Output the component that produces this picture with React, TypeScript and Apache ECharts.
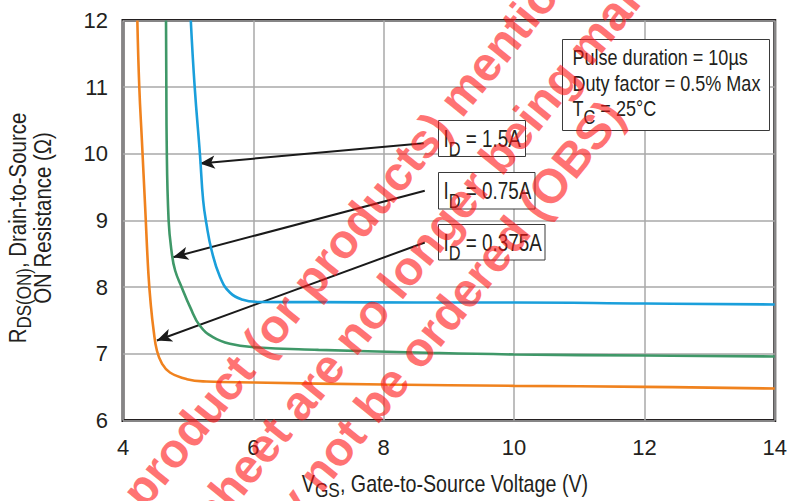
import React, { useEffect, useRef } from 'react';
import * as echarts from 'echarts';

const FONT = "'Liberation Sans', Arial, sans-serif";
const NARROW = 0.82;
const TEXT = '#231f20';

// Axis ranges / ticks
const xMin = 4, xMax = 14, xStep = 2;
const yMin = 6, yMax = 12, yStep = 1;

// Curves (VGS in V, RDS(ON) in ohm)
const curveColors = ['#1a9fdb', '#3f9868', '#f0821e'];

const vgs15 = [5.04, 5.10, 5.18, 5.23, 5.28, 5.36, 5.49, 5.64, 5.84, 6.05, 7.0, 8.5, 10, 12, 14];
const rds15 = [12, 11, 10, 9.3, 8.95, 8.55, 8.15, 7.92, 7.81, 7.78, 7.775, 7.77, 7.77, 7.755, 7.74];

const vgs075 = [4.66, 4.665, 4.67, 4.70, 4.75, 4.80, 4.90, 5.03, 5.18, 5.38, 5.64, 6.0, 7.0, 8.5, 10, 12, 14];
const rds075 = [12, 11, 10.2, 9.0, 8.5, 8.25, 8.0, 7.7, 7.42, 7.25, 7.15, 7.10, 7.06, 7.02, 6.99, 6.975, 6.96];

const vgs0375 = [4.22, 4.25, 4.29, 4.34, 4.39, 4.43, 4.47, 4.52, 4.60, 4.72, 4.98, 5.28, 6.0, 8.0, 10, 12, 14];
const rds0375 = [12, 11, 10.2, 9.2, 8.2, 7.7, 7.35, 7.05, 6.85, 6.72, 6.62, 6.585, 6.57, 6.54, 6.52, 6.505, 6.48];

// Annotation arrows (data coordinates)
const arrowFromVgs = [8.615, 8.63, 8.63];
const arrowFromRds = [10.157, 9.445, 8.67];
const arrowToVgs = [5.18, 4.77, 4.52];
const arrowToRds = [9.856, 8.45, 7.2];

// Labels
const idValues = ['1.5A', '0.75A', '0.375A'];
const conditionLines = ['Pulse duration = 10µs', 'Duty factor = 0.5% Max'];
const tcLabel = ['T', 'C', ' = 25°C'];
const xName = ['V', 'GS', ', Gate-to-Source Voltage (V)'];
const yName1 = ['R', 'DS(ON)', ', Drain-to-Source'];
const yName2 = 'ON Resistance (Ω)';
const watermark = [
  'The product (or products) mentioned in this',
  'datasheet are no longer being manufactured and',
  'may not be ordered (OBS)',
];

const zip = (xs: number[], ys: number[]) => xs.map((x, i) => [x, ys[i]]);

function subText(parts: string[], main: number, sub: number, pad: number) {
  return {
    text: `{m|${parts[0]}}{s|${parts[1]}}{m|${parts[2]}}`,
    rich: {
      m: { fontSize: main, fontFamily: FONT, fill: TEXT },
      s: { fontSize: sub, fontFamily: FONT, fill: TEXT, padding: [pad, 0, 0, 0] },
    },
  };
}

export default function App() {
  const ref = useRef<HTMLDivElement>(null);

  useEffect(() => {
    if (!ref.current) return;
    const chart = echarts.init(ref.current, undefined, { renderer: 'svg' });

    const boxes = [
      { x: 438.5, y: 120.5, w: 87, h: 36 },
      { x: 438.5, y: 172.5, w: 96.5, h: 36.5 },
      { x: 438.5, y: 224.5, w: 106.5, h: 35.5 },
    ];

    const graphic: any[] = [];
    boxes.forEach((b, i) => {
      graphic.push({
        type: 'rect', z: 20,
        shape: { x: b.x, y: b.y, width: b.w, height: b.h },
        style: { fill: '#fff', stroke: '#3a3a3a', lineWidth: 1 },
      });
      graphic.push({
        type: 'text', z: 21,
        x: b.x + 5, y: b.y + 18.5, scaleX: NARROW,
        style: { ...subText(['I', 'D', ` = ${idValues[i]}`], 23, 20, 20), align: 'left', verticalAlign: 'middle' },
      });
    });
    graphic.push({
      type: 'rect', z: 20,
      shape: { x: 562.5, y: 39.5, width: 207, height: 91 },
      style: { fill: '#fff', stroke: '#3a3a3a', lineWidth: 1 },
    });
    conditionLines.forEach((t, i) => {
      graphic.push({
        type: 'text', z: 21, x: 572.5, y: 57.5 + i * 25.5, scaleX: NARROW,
        style: { text: t, fontSize: 22, fontFamily: FONT, fill: TEXT, align: 'left', verticalAlign: 'middle' },
      });
    });
    graphic.push({
      type: 'text', z: 21, x: 572.5, y: 108.5, scaleX: NARROW,
      style: { ...subText(tcLabel, 22, 20, 17), align: 'left', verticalAlign: 'middle' },
    });
    graphic.push({
      type: 'text', z: 21, x: 445, y: 483.5, scaleX: NARROW,
      style: { ...subText(xName, 24, 21, 13), align: 'center', verticalAlign: 'middle' },
    });
    graphic.push({
      type: 'text', z: 21, x: 18, y: 228, rotation: Math.PI / 2, scaleX: 0.85,
      style: { ...subText(yName1, 24, 20, 12), align: 'center', verticalAlign: 'middle' },
    });
    graphic.push({
      type: 'text', z: 21, x: 43, y: 218, rotation: Math.PI / 2, scaleX: 0.85,
      style: { text: yName2, fontSize: 24, fontFamily: FONT, fill: TEXT, align: 'center', verticalAlign: 'middle' },
    });
    const wmPos = [[70, 577], [140, 598], [240, 569]];
    watermark.forEach((t, i) => {
      graphic.push({
        type: 'text', z: 100, x: wmPos[i][0], y: wmPos[i][1], rotation: (51 * Math.PI) / 180,
        style: {
          text: t, fontSize: 48, fontWeight: 'bold', fontFamily: FONT,
          fill: 'rgba(255,20,20,0.6)', align: 'left', verticalAlign: 'middle',
        },
      });
    });

    const curve = (name: string, data: number[][], color: string) => ({
      name, type: 'line', data, showSymbol: false, symbol: 'none',
      smooth: 0.45, z: 5,
      lineStyle: { color, width: 2.6 },
    });

    chart.setOption({
      animation: false,
      backgroundColor: '#fff',
      grid: {
        left: 123, right: 12, top: 20.5, bottom: 80.5,
        show: true, borderColor: '#231f20', borderWidth: 3, backgroundColor: 'transparent',
      },
      xAxis: {
        type: 'value', min: xMin, max: xMax, interval: xStep,
        axisLine: { show: false }, axisTick: { show: false },
        splitLine: { show: true, lineStyle: { color: '#a9a9a9', width: 1.5 } },
        axisLabel: { color: TEXT, fontSize: 22, fontFamily: FONT, margin: 16 },
      },
      yAxis: {
        type: 'value', min: yMin, max: yMax, interval: yStep,
        axisLine: { show: false }, axisTick: { show: false },
        splitLine: { show: true, lineStyle: { color: '#a9a9a9', width: 1.5 } },
        axisLabel: { color: TEXT, fontSize: 22, fontFamily: FONT, margin: 15 },
      },
      series: [
        curve('ID = 1.5A', zip(vgs15, rds15), curveColors[0]),
        curve('ID = 0.75A', zip(vgs075, rds075), curveColors[1]),
        curve('ID = 0.375A', zip(vgs0375, rds0375), curveColors[2]),
        {
          name: 'arrows', type: 'line', data: [], z: 6,
          markLine: {
            silent: true, animation: false,
            symbol: ['none', 'arrow'], symbolSize: [10, 15],
            lineStyle: { color: '#1a1a1a', width: 2, type: 'solid' },
            label: { show: false },
            data: arrowFromVgs.map((x, i) => [
              { coord: [x, arrowFromRds[i]] },
              { coord: [arrowToVgs[i], arrowToRds[i]] },
            ]),
          },
        },
      ],
      graphic,
    });

    return () => chart.dispose();
  }, []);

  return (
    <div
      ref={ref}
      style={{ position: 'fixed', left: 0, top: 0, width: 790, height: 501, background: '#fff' }}
    />
  );
}
